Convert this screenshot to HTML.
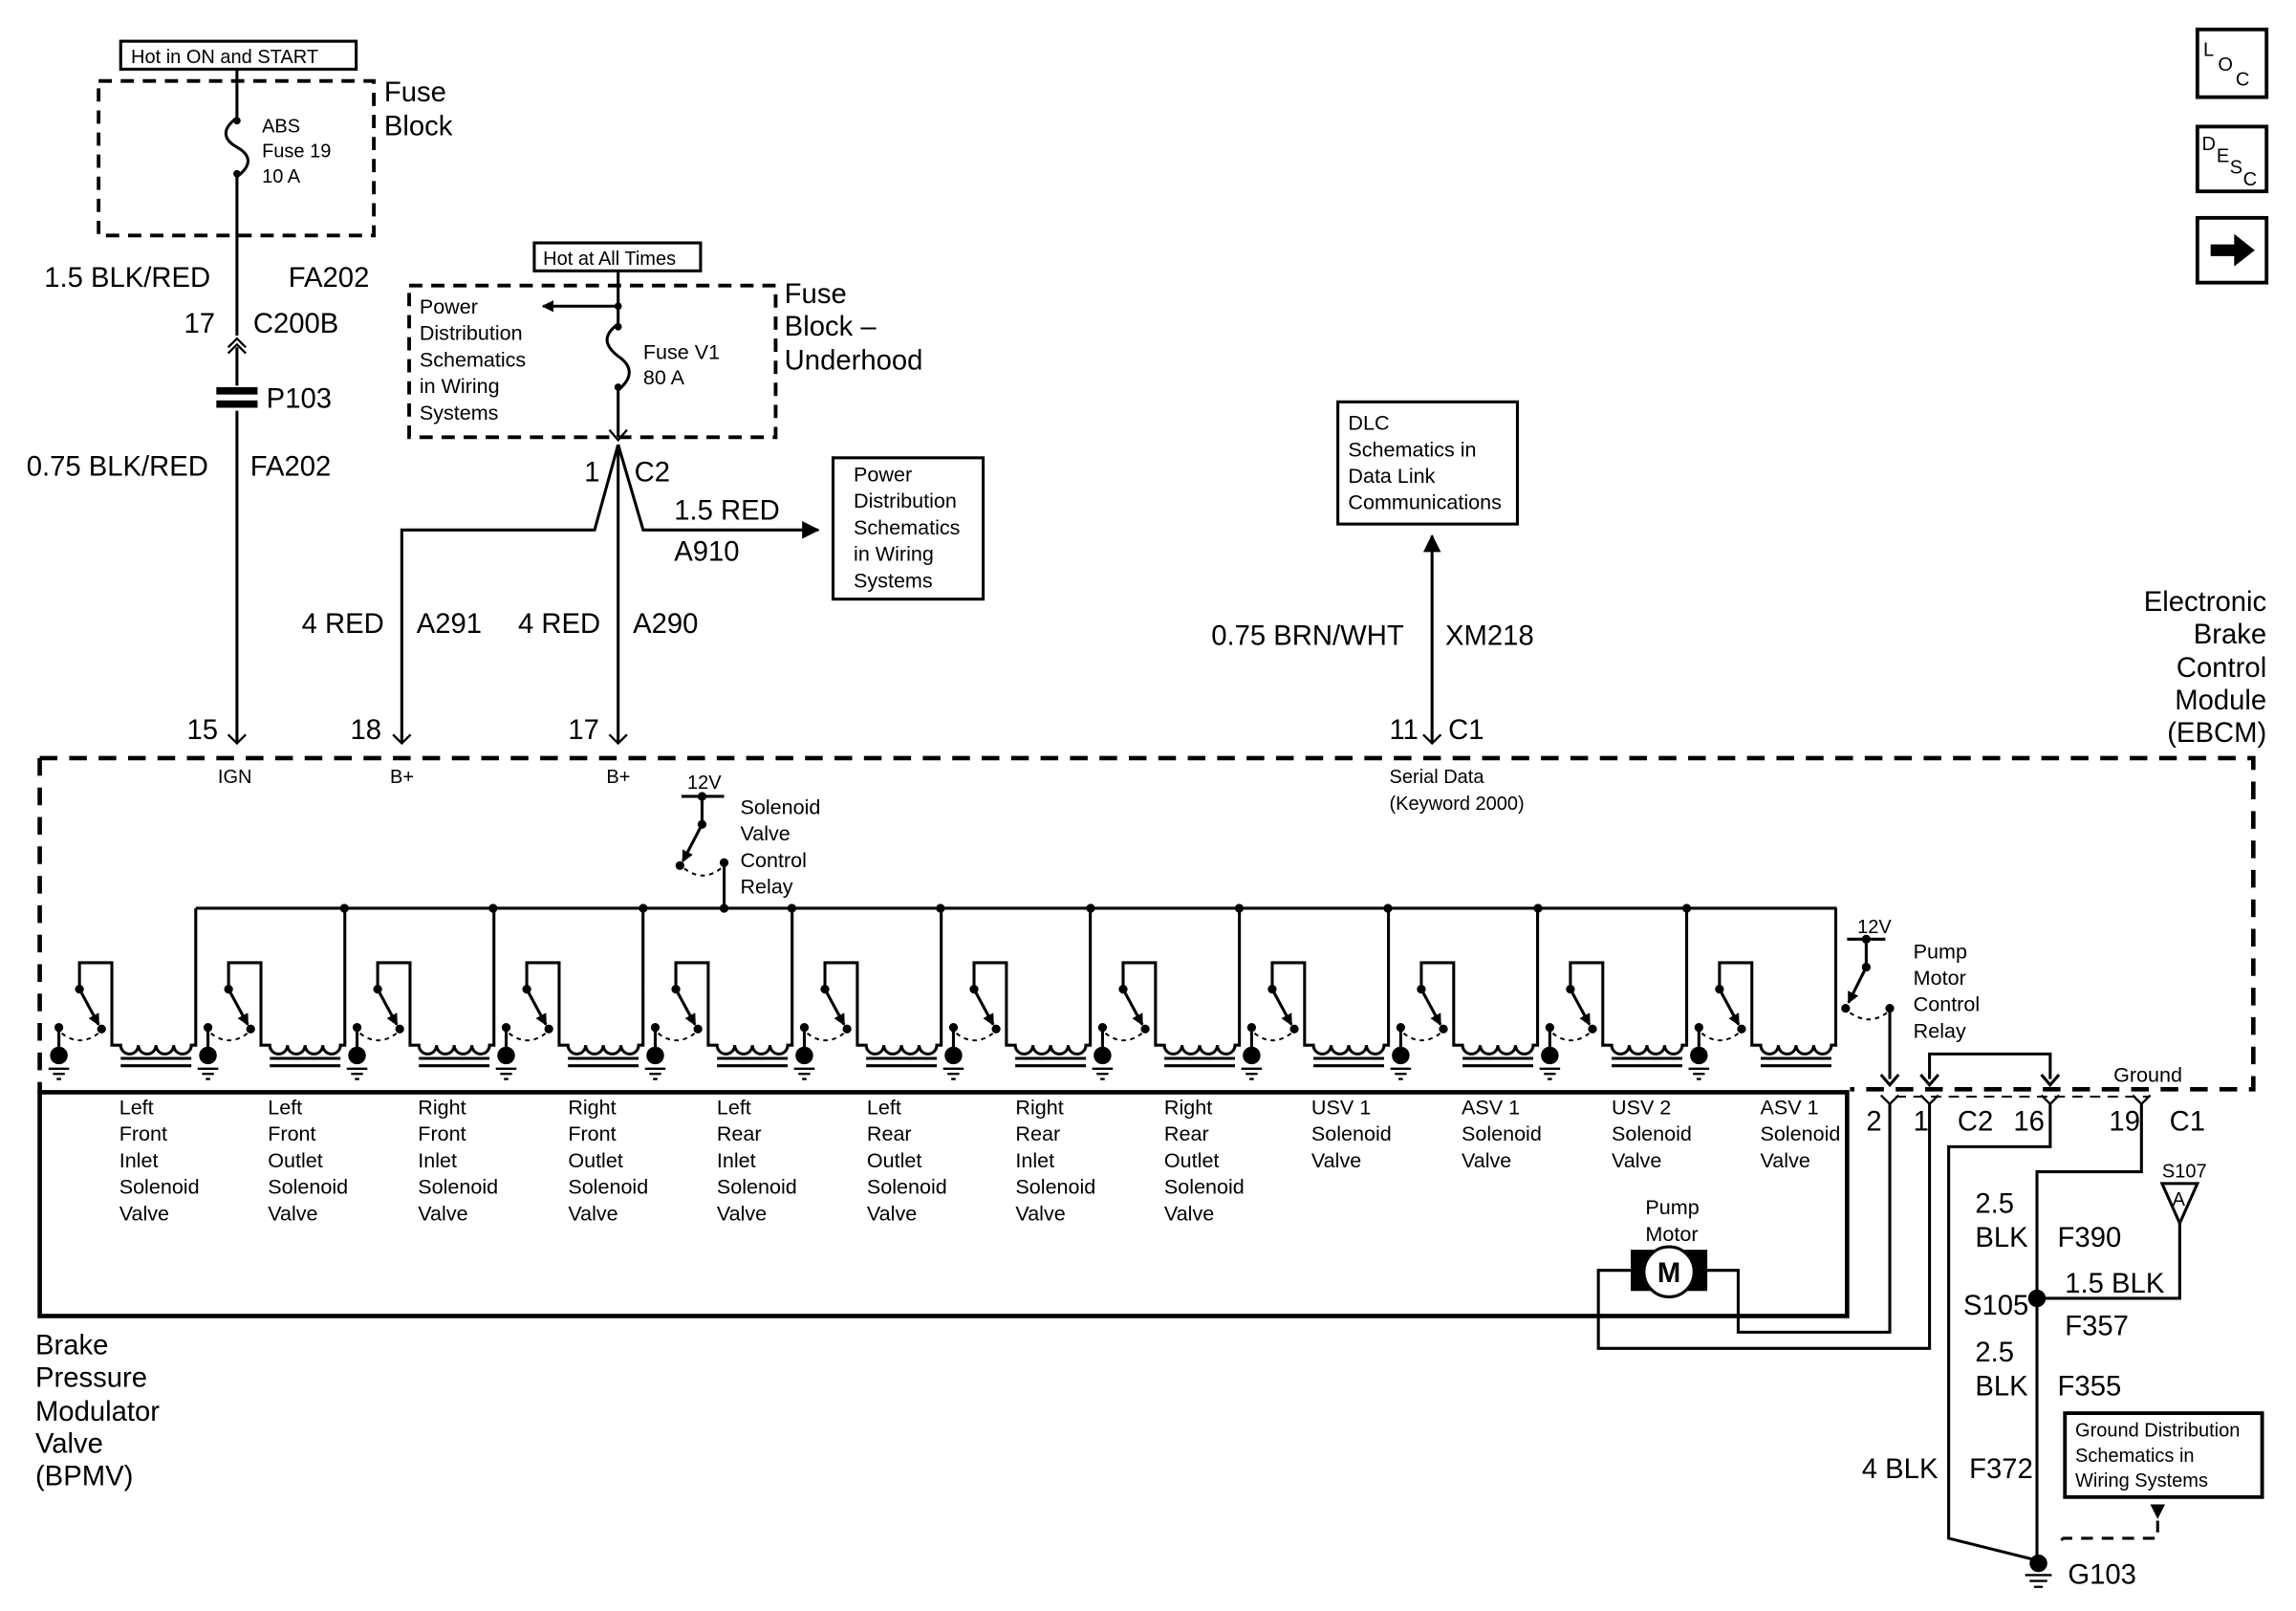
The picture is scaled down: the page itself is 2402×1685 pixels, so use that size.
<!DOCTYPE html>
<html><head><meta charset="utf-8"><style>
html,body{margin:0;padding:0;background:#fff;}
svg{display:block;}
text{font-family:"Liberation Sans",Arial,sans-serif;fill:#000;}
.b{font-size:19px;}
.s{font-size:14px;}
.t{font-size:13px;}
</style></head><body>
<svg width="2402" height="1685" viewBox="0 0 1560 1094.4" preserveAspectRatio="none" xmlns="http://www.w3.org/2000/svg">
<defs>
<marker id="ah" markerWidth="8" markerHeight="8" refX="7" refY="4" orient="auto" markerUnits="userSpaceOnUse"><path d="M0,0 L8,4 L0,8 z" fill="#000"/></marker>
<marker id="ah2" markerWidth="12" markerHeight="12" refX="11" refY="6" orient="auto" markerUnits="userSpaceOnUse"><path d="M0,0 L12,6 L0,12 z" fill="#000"/></marker>
<g id="unit" fill="none" stroke="#000" stroke-width="2">
<path d="M54,672 V654 H76 V710 H82 a6,6 0 0 0 12,0 a6,6 0 0 0 12,0 a6,6 0 0 0 12,0 a6,6 0 0 0 12,0 H133 V617"/>
<path d="M82,719 H130 M82,724 H130"/>
<line x1="54" y1="672" x2="67" y2="696" marker-end="url(#ah)"/>
<path d="M42,702 Q55,712 68,701" stroke-dasharray="3,3" stroke-width="1.3"/>
<line x1="40" y1="698" x2="40" y2="712"/>
<circle cx="54" cy="672" r="3" fill="#000" stroke="none"/>
<circle cx="69" cy="699" r="3" fill="#000" stroke="none"/>
<circle cx="40" cy="698" r="3" fill="#000" stroke="none"/>
<circle cx="40" cy="717" r="6" fill="#000" stroke="none"/>
<path d="M33,726 H47 M36,729.5 H44 M38.5,733 H41.5" stroke-width="1.5"/>
</g>
</defs>

<rect x="82" y="28" width="160" height="19" fill="none" stroke="#000" stroke-width="2"/>
<text x="89" y="43" class="t">Hot in ON and START</text>
<rect x="67" y="55" width="187" height="105" fill="none" stroke="#000" stroke-width="2.5" stroke-dasharray="9,6"/>
<text x="261" y="69" class="b">Fuse</text><text x="261" y="92" class="b">Block</text>
<g fill="none" stroke="#000" stroke-width="2">
<path d="M161,47 V80 M161,120 V228 M161,236 V262 M161,279 V505"/>
<path d="M161,80 C150,88 152,95 161,100 C170,105 172,112 161,120"/>
</g>
<circle cx="161" cy="82" r="2.5"/><circle cx="161" cy="118" r="2.5"/>
<text x="178" y="90" class="t">ABS</text><text x="178" y="107" class="t">Fuse 19</text><text x="178" y="124" class="t">10 A</text>
<text x="30" y="195" class="b">1.5 BLK/RED</text><text x="196" y="195" class="b">FA202</text>
<text x="125" y="226" class="b">17</text><text x="172" y="226" class="b">C200B</text>
<path d="M155,236 L161,230 L167,236 M155,240 L161,234 L167,240" fill="none" stroke="#000" stroke-width="1.5"/>
<rect x="147" y="263" width="28" height="5" fill="#000"/><rect x="147" y="272" width="28" height="5" fill="#000"/>
<text x="181" y="277" class="b">P103</text>
<text x="18" y="323" class="b">0.75 BLK/RED</text><text x="170" y="323" class="b">FA202</text>
<text x="127" y="502" class="b">15</text>
<text x="148" y="532" class="t">IGN</text>

<rect x="363" y="165" width="113" height="19" fill="none" stroke="#000" stroke-width="2"/>
<text x="369" y="180" class="t">Hot at All Times</text>
<rect x="278" y="194" width="249" height="103" fill="none" stroke="#000" stroke-width="2.5" stroke-dasharray="9,6"/>
<g fill="none" stroke="#000" stroke-width="2">
<path d="M420,184 V220 M420,265 V297"/>
<path d="M420,220 C409,228 411,235 420,242 C429,248 431,256 420,265"/>
<line x1="420" y1="208" x2="369" y2="208" marker-end="url(#ah)"/>
</g>
<circle cx="420" cy="208" r="2.5"/><circle cx="420" cy="222" r="2.5"/><circle cx="420" cy="263" r="2.5"/>
<text x="285" y="213" class="s">Power</text><text x="285" y="231" class="s">Distribution</text><text x="285" y="249" class="s">Schematics</text><text x="285" y="267" class="s">in Wiring</text><text x="285" y="285" class="s">Systems</text>
<text x="437" y="244" class="s">Fuse V1</text><text x="437" y="261" class="s">80 A</text>
<text x="533" y="206" class="b">Fuse</text><text x="533" y="228" class="b">Block –</text><text x="533" y="251" class="b">Underhood</text>
<path d="M414,292 L420,299 L426,292" fill="none" stroke="#000" stroke-width="1.5"/>
<text x="397" y="327" class="b">1</text><text x="431" y="327" class="b">C2</text>
<g fill="none" stroke="#000" stroke-width="2">
<path d="M420,302 V505"/>
<path d="M420,302 L404,360 H273 V505"/>
<path d="M420,302 L437,360 H556" marker-end="url(#ah2)"/>
</g>
<text x="458" y="353" class="b">1.5 RED</text><text x="458" y="381" class="b">A910</text>
<rect x="566" y="311" width="102" height="96" fill="none" stroke="#000" stroke-width="2"/>
<text x="580" y="327" class="s">Power</text><text x="580" y="345" class="s">Distribution</text><text x="580" y="363" class="s">Schematics</text><text x="580" y="381" class="s">in Wiring</text><text x="580" y="399" class="s">Systems</text>
<text x="205" y="430" class="b">4 RED</text><text x="283" y="430" class="b">A291</text>
<text x="352" y="430" class="b">4 RED</text><text x="430" y="430" class="b">A290</text>
<text x="238" y="502" class="b">18</text><text x="386" y="502" class="b">17</text>
<text x="265" y="532" class="t">B+</text><text x="412" y="532" class="t">B+</text>
<path d="M155,499 L161,505 L167,499 M267,499 L273,505 L279,499 M414,499 L420,505 L426,499 M967,499 L973,505 L979,499" fill="none" stroke="#000" stroke-width="1.5"/>

<rect x="909" y="273" width="122" height="83" fill="none" stroke="#000" stroke-width="2"/>
<text x="916" y="292" class="s">DLC</text><text x="916" y="310" class="s">Schematics in</text><text x="916" y="328" class="s">Data Link</text><text x="916" y="346" class="s">Communications</text>
<line x1="973" y1="505" x2="973" y2="364" stroke="#000" stroke-width="2" marker-end="url(#ah2)"/>
<text x="823" y="438" class="b">0.75 BRN/WHT</text><text x="982" y="438" class="b">XM218</text>
<text x="944" y="502" class="b">11</text><text x="984" y="502" class="b">C1</text>
<text x="944" y="532" class="t">Serial Data</text><text x="944" y="550" class="t">(Keyword 2000)</text>
<g class="b" text-anchor="end"><text x="1540" y="415">Electronic</text><text x="1540" y="437">Brake</text><text x="1540" y="460">Control</text><text x="1540" y="482">Module</text><text x="1540" y="504">(EBCM)</text></g>

<path d="M27,515 H1531 V740 H1257" fill="none" stroke="#000" stroke-width="3" stroke-dasharray="12,8"/>
<path d="M27,515 V742" fill="none" stroke="#000" stroke-width="3" stroke-dasharray="12,8"/>

<path d="M463,541 H492" stroke="#000" stroke-width="2"/>
<text x="467" y="536" class="t">12V</text>
<path d="M477,541 V560" stroke="#000" stroke-width="2"/>
<line x1="477" y1="560" x2="464" y2="585" stroke="#000" stroke-width="2" marker-end="url(#ah)"/>
<path d="M465,590 Q478,600 491,589" fill="none" stroke="#000" stroke-width="1.3" stroke-dasharray="3,3"/>
<path d="M492,586 V617" stroke="#000" stroke-width="2"/>
<circle cx="477" cy="541" r="3"/><circle cx="477" cy="560" r="3"/><circle cx="462" cy="588" r="3"/><circle cx="492" cy="586" r="3"/><circle cx="492" cy="617" r="3"/>
<text x="503" y="553" class="s">Solenoid</text><text x="503" y="571" class="s">Valve</text><text x="503" y="589" class="s">Control</text><text x="503" y="607" class="s">Relay</text>

<path d="M133,617 H1248" stroke="#000" stroke-width="2"/>
<use href="#unit" x="0"/><use href="#unit" x="101.3"/><use href="#unit" x="202.6"/><use href="#unit" x="303.9"/>
<use href="#unit" x="405.2"/><use href="#unit" x="506.5"/><use href="#unit" x="607.8"/><use href="#unit" x="709.1"/>
<use href="#unit" x="810.4"/><use href="#unit" x="911.7"/><use href="#unit" x="1013"/><use href="#unit" x="1114.3"/>
<g>
<circle cx="234" cy="617" r="3"/><circle cx="335" cy="617" r="3"/><circle cx="437" cy="617" r="3"/><circle cx="538" cy="617" r="3"/><circle cx="639" cy="617" r="3"/><circle cx="741" cy="617" r="3"/><circle cx="842" cy="617" r="3"/><circle cx="943" cy="617" r="3"/><circle cx="1045" cy="617" r="3"/><circle cx="1146" cy="617" r="3"/>
</g>

<path d="M1255,638 H1281 M1268,638 V657 M1284,685 V733" stroke="#000" stroke-width="2" fill="none"/>
<line x1="1268" y1="657" x2="1256" y2="681" stroke="#000" stroke-width="2" marker-end="url(#ah)"/>
<path d="M1257,688 Q1270,697 1282,688" fill="none" stroke="#000" stroke-width="1.3" stroke-dasharray="3,3"/>
<path d="M1278,730 L1284,737 L1290,730" fill="none" stroke="#000" stroke-width="2"/>
<circle cx="1268" cy="638" r="3"/><circle cx="1268" cy="657" r="3"/><circle cx="1254" cy="685" r="3"/><circle cx="1284" cy="685" r="3"/>
<text x="1262" y="634" class="t">12V</text>
<text x="1300" y="651" class="s">Pump</text><text x="1300" y="669" class="s">Motor</text><text x="1300" y="687" class="s">Control</text><text x="1300" y="705" class="s">Relay</text>
<path d="M1311,733 V716 H1393 V733" fill="none" stroke="#000" stroke-width="2"/>
<path d="M1305,730 L1311,737 L1317,730 M1387,730 L1393,737 L1399,730" fill="none" stroke="#000" stroke-width="2"/>
<text x="1436" y="735" class="s">Ground</text>
<path d="M1288,745 H1460" stroke="#000" stroke-width="1.3" stroke-dasharray="7,5"/>
<path d="M1278,744 L1284,750 L1290,744 M1305,744 L1311,750 L1317,744 M1387,744 L1393,750 L1399,744 M1449,744 L1455,750 L1461,744" fill="none" stroke="#000" stroke-width="1.5"/>
<text x="1268" y="768" class="b">2</text><text x="1300" y="768" class="b">1</text><text x="1330" y="768" class="b">C2</text><text x="1368" y="768" class="b">16</text>
<text x="1433" y="768" class="b">19</text><text x="1474" y="768" class="b">C1</text>

<rect x="27" y="742" width="1228" height="152" fill="none" stroke="#000" stroke-width="3"/>
<g class="s">
<text x="81" y="757">Left</text><text x="81" y="775">Front</text><text x="81" y="793">Inlet</text><text x="81" y="811">Solenoid</text><text x="81" y="829">Valve</text>
<text x="182" y="757">Left</text><text x="182" y="775">Front</text><text x="182" y="793">Outlet</text><text x="182" y="811">Solenoid</text><text x="182" y="829">Valve</text>
<text x="284" y="757">Right</text><text x="284" y="775">Front</text><text x="284" y="793">Inlet</text><text x="284" y="811">Solenoid</text><text x="284" y="829">Valve</text>
<text x="386" y="757">Right</text><text x="386" y="775">Front</text><text x="386" y="793">Outlet</text><text x="386" y="811">Solenoid</text><text x="386" y="829">Valve</text>
<text x="487" y="757">Left</text><text x="487" y="775">Rear</text><text x="487" y="793">Inlet</text><text x="487" y="811">Solenoid</text><text x="487" y="829">Valve</text>
<text x="589" y="757">Left</text><text x="589" y="775">Rear</text><text x="589" y="793">Outlet</text><text x="589" y="811">Solenoid</text><text x="589" y="829">Valve</text>
<text x="690" y="757">Right</text><text x="690" y="775">Rear</text><text x="690" y="793">Inlet</text><text x="690" y="811">Solenoid</text><text x="690" y="829">Valve</text>
<text x="791" y="757">Right</text><text x="791" y="775">Rear</text><text x="791" y="793">Outlet</text><text x="791" y="811">Solenoid</text><text x="791" y="829">Valve</text>
<text x="891" y="757">USV 1</text><text x="891" y="775">Solenoid</text><text x="891" y="793">Valve</text>
<text x="993" y="757">ASV 1</text><text x="993" y="775">Solenoid</text><text x="993" y="793">Valve</text>
<text x="1095" y="757">USV 2</text><text x="1095" y="775">Solenoid</text><text x="1095" y="793">Valve</text>
<text x="1196" y="757">ASV 1</text><text x="1196" y="775">Solenoid</text><text x="1196" y="793">Valve</text>
<text x="1118" y="825">Pump</text><text x="1118" y="843">Motor</text>
</g>
<g class="b"><text x="24" y="920">Brake</text><text x="24" y="942">Pressure</text><text x="24" y="965">Modulator</text><text x="24" y="987">Valve</text><text x="24" y="1009">(BPMV)</text></g>

<!-- pump motor -->
<g fill="none" stroke="#000" stroke-width="2">
<path d="M1108,863 H1086 V916 H1311 V750"/>
<path d="M1160,863 H1181 V905 H1284 V750"/>
</g>
<rect x="1108" y="849" width="52" height="28" fill="#000"/>
<circle cx="1134" cy="864" r="17" fill="#fff" stroke="#000" stroke-width="2"/>
<text x="1134" y="871" class="b" text-anchor="middle" font-weight="bold">M</text>

<g fill="none" stroke="#000" stroke-width="2">
<path d="M1393,750 V779 H1324 V1045 L1384,1060"/>
<path d="M1455,750 V796 H1384 V1060"/>
<path d="M1481,831 V882 H1384"/>
<path d="M1469,804 H1493 L1481,831 Z"/>
<path d="M1466,1033 V1045 H1402 L1398,1048" stroke-dasharray="8,6"/>
</g>
<path d="M1461,1022 H1471 L1466,1032 Z"/>
<circle cx="1384" cy="882" r="6"/>
<circle cx="1385" cy="1062" r="6"/>
<path d="M1376,1070 H1394 M1379,1074 H1391 M1382,1078 H1388" stroke="#000" stroke-width="1.5"/>
<text x="1469" y="800" class="t">S107</text><text x="1476" y="819" class="t">A</text>
<g class="b">
<text x="1342" y="824">2.5</text><text x="1342" y="847">BLK</text><text x="1398" y="847">F390</text>
<text x="1403" y="878">1.5 BLK</text><text x="1334" y="893">S105</text><text x="1403" y="907">F357</text>
<text x="1342" y="925">2.5</text><text x="1342" y="948">BLK</text><text x="1398" y="948">F355</text>
<text x="1265" y="1004">4 BLK</text><text x="1338" y="1004">F372</text>
<text x="1405" y="1076">G103</text>
</g>
<rect x="1403" y="960" width="134" height="57" fill="none" stroke="#000" stroke-width="2.5"/>
<text x="1410" y="976" class="t">Ground Distribution</text><text x="1410" y="993" class="t">Schematics in</text><text x="1410" y="1010" class="t">Wiring Systems</text>

<rect x="1493" y="20" width="47" height="46" fill="none" stroke="#000" stroke-width="2.5"/>
<text x="1497" y="38" class="t">L</text><text x="1507" y="48" class="t">O</text><text x="1519" y="58" class="t">C</text>
<rect x="1493" y="86" width="47" height="44" fill="none" stroke="#000" stroke-width="2.5"/>
<text x="1496" y="102" class="t">D</text><text x="1506" y="110" class="t">E</text><text x="1515" y="118" class="t">S</text><text x="1524" y="126" class="t">C</text>
<rect x="1493" y="148" width="47" height="44" fill="none" stroke="#000" stroke-width="2.5"/>
<path d="M1502,166 H1518 V159 L1532,170 L1518,181 V174 H1502 Z"/>
</svg>
</body></html>
